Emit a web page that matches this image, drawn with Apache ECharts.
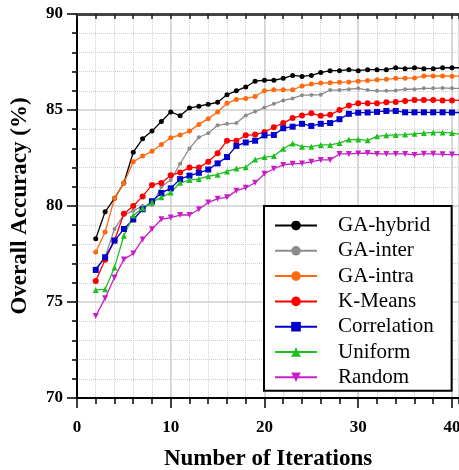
<!DOCTYPE html>
<html>
<head>
<meta charset="utf-8">
<script src="https://cdn.jsdelivr.net/npm/echarts@6/dist/echarts.min.js"></script>
<style>
  html, body { margin: 0; padding: 0; background: #fff; }
  #main { width: 459px; height: 470px; }
</style>
</head>
<body>
<div id="main"></div>
<script>
var chartDom = document.getElementById('main');
var myChart = echarts.init(chartDom);

// iterations 2..41 (the last one is cut off at the right edge)
const iterations = [2, 3, 4, 5, 6, 7, 8, 9, 10, 11, 12, 13, 14, 15, 16, 17, 18, 19, 20, 21,
  22, 23, 24, 25, 26, 27, 28, 29, 30, 31, 32, 33, 34, 35, 36, 37, 38, 39, 40, 41];

const gaHybrid = [78.3, 79.7, 80.4, 81.2, 82.8, 83.5, 83.9, 84.4, 84.9, 84.7, 85.1, 85.2, 85.3, 85.4, 85.8, 86.0,
  86.2, 86.5, 86.55, 86.55, 86.65, 86.8, 86.75, 86.8, 86.95, 87.05, 87.05, 87.1, 87.05, 87.1, 87.1, 87.1, 87.2,
  87.15, 87.2, 87.15, 87.15, 87.2, 87.2, 87.2];
const gaInter = [76.75, 77.35, 78.8, 79.55, 79.75, 80.0, 80.05, 81.0, 81.35, 82.2, 83.0, 83.58, 83.79, 84.2, 84.28,
  84.32, 84.72, 84.92, 85.13, 85.32, 85.5, 85.6, 85.77, 85.78, 85.8, 86.04, 86.04, 86.08, 86.13, 86.04, 86.0, 86.0,
  86.02, 86.08, 86.08, 86.13, 86.13, 86.15, 86.13, 86.13];
const gaIntra = [77.6, 78.65, 80.4, 81.2, 82.3, 82.6, 82.85, 83.2, 83.55, 83.7, 83.9, 84.25, 84.55, 84.9, 85.35,
  85.55, 85.6, 85.7, 86.0, 86.05, 86.05, 86.05, 86.25, 86.35, 86.4, 86.42, 86.44, 86.46, 86.5, 86.53, 86.57, 86.6,
  86.65, 86.65, 86.67, 86.77, 86.77, 86.77, 86.76, 86.76];
const kMeans = [76.1, 77.2, 78.2, 79.6, 80.0, 80.5, 81.1, 81.2, 81.6, 81.75, 82.0, 82.0, 82.3, 82.75, 83.4, 83.4,
  83.68, 83.72, 83.85, 84.1, 84.32, 84.58, 84.72, 84.83, 84.7, 84.75, 85.0, 85.23, 85.35, 85.35, 85.35, 85.4, 85.42,
  85.47, 85.52, 85.52, 85.52, 85.5, 85.5, 85.5];
const correlation = [76.67, 77.33, 78.2, 78.8, 79.3, 79.83, 80.25, 80.68, 80.92, 81.4, 81.58, 81.73, 81.9, 82.22,
  82.55, 83.13, 83.31, 83.4, 83.68, 83.7, 84.05, 84.13, 84.28, 84.17, 84.28, 84.32, 84.52, 84.8, 84.86, 84.87, 84.9,
  84.95, 84.95, 84.88, 84.88, 84.88, 84.88, 84.88, 84.87, 84.87];
const uniform = [75.63, 75.66, 76.8, 78.45, 79.5, 79.88, 80.2, 80.45, 80.7, 81.21, 81.35, 81.41, 81.55, 81.63, 81.8,
  81.95, 82.02, 82.42, 82.55, 82.6, 82.98, 83.26, 83.09, 83.09, 83.18, 83.18, 83.28, 83.46, 83.47, 83.42, 83.63,
  83.68, 83.7, 83.72, 83.76, 83.8, 83.83, 83.83, 83.8, 83.72];
const random = [74.27, 75.2, 76.28, 77.22, 77.53, 78.26, 78.79, 79.31, 79.4, 79.53, 79.53, 79.83, 80.18, 80.38,
  80.45, 80.8, 80.95, 81.21, 81.68, 81.94, 82.14, 82.2, 82.22, 82.3, 82.4, 82.4, 82.71, 82.71, 82.74, 82.76, 82.71,
  82.71, 82.71, 82.71, 82.66, 82.72, 82.72, 82.69, 82.68, 82.68];

const seriesNames = ['GA-hybrid', 'GA-inter', 'GA-intra', 'K-Means', 'Correlation', 'Uniform', 'Random'];
const xTicks = [0, 10, 20, 30, 40];

const serif = "'Liberation Serif', 'Times New Roman', serif";
const gridGrey = '#cfcfcf';

function pairs(values) {
  return values.map(function (v, i) { return [iterations[i], v]; });
}

function makeSeries(name, values, color, symbol, size, rotate) {
  return {
    name: name,
    type: 'line',
    data: pairs(values),
    symbol: symbol,
    symbolSize: size,
    symbolRotate: rotate || 0,
    showSymbol: true,
    color: color,
    lineStyle: { width: 1.3, color: color },
    itemStyle: { color: color },
    emphasis: { disabled: true },
    animation: false
  };
}

var option = {
  backgroundColor: '#fff',
  animation: false,
  grid: { left: 77, top: 14, right: 0, bottom: 72, containLabel: false, outerBoundsMode: 'none' },
  legend: {
    orient: 'vertical',
    left: 264,
    top: 206,
    padding: [9, 18, 3, 10],
    itemGap: 4.3,
    itemWidth: 42,
    itemHeight: 12,
    borderColor: '#000',
    borderWidth: 2,
    borderRadius: 0,
    backgroundColor: '#fff',
    textStyle: { fontFamily: serif, fontSize: 21, color: '#000', lineHeight: 20, padding: [0, 0, 0, 16] },
    data: seriesNames
  },
  xAxis: [
    {
      // minor grid (every 2)
      type: 'value', min: 0, max: 40.75, interval: 2, position: 'bottom',
      axisLine: { show: true, onZero: false, lineStyle: { color: '#000', width: 2 } },
      axisTick: { show: true, length: 6, lineStyle: { color: '#000', width: 1.5 } },
      axisLabel: { show: false },
      splitLine: { show: true, lineStyle: { color: gridGrey, type: 'dotted', width: 1 } }
    },
    {
      // major ticks with labels
      type: 'value', min: 0, max: 40.75, interval: 10, position: 'bottom',
      name: 'Number of Iterations', nameLocation: 'middle', nameGap: 50,
      nameTextStyle: { fontFamily: serif, fontSize: 23, fontWeight: 'bold', color: '#000' },
      axisLine: { show: true, onZero: false, lineStyle: { color: '#000', width: 2 } },
      axisTick: { show: true, length: 10, lineStyle: { color: '#000', width: 1.5 } },
      axisLabel: {
        fontFamily: serif, fontSize: 17, fontWeight: 'bold', color: '#000', margin: 21,
        showMaxLabel: false,
        formatter: function (v) { return xTicks.indexOf(v) >= 0 ? String(v) : ''; }
      },
      splitLine: { show: true, lineStyle: { color: gridGrey, width: 1.5 } }
    },
    {
      // top frame
      type: 'value', min: 0, max: 40.75, interval: 2, position: 'top',
      axisLine: { show: true, onZero: false, lineStyle: { color: '#444', width: 3 } },
      axisTick: { show: true, inside: true, length: 5, lineStyle: { color: '#222', width: 1.5 } },
      axisLabel: { show: false },
      splitLine: { show: false }
    }
  ],
  yAxis: [
    {
      type: 'value', min: 70, max: 90, interval: 5, position: 'left',
      name: 'Overall Accuracy (%)', nameLocation: 'middle', nameGap: 45,
      nameTextStyle: { fontFamily: serif, fontSize: 23, fontWeight: 'bold', color: '#000' },
      axisLine: { show: true, onZero: false, lineStyle: { color: '#000', width: 2 } },
      axisTick: { show: true, length: 10, lineStyle: { color: '#000', width: 1.5 } },
      minorTick: { show: true, splitNumber: 5, length: 5, lineStyle: { color: '#000', width: 1.5 } },
      axisLabel: { fontFamily: serif, fontSize: 17, fontWeight: 'bold', color: '#000', margin: 14 },
      splitLine: { show: true, lineStyle: { color: gridGrey, width: 1.5 } },
      minorSplitLine: { show: true, lineStyle: { color: gridGrey, type: 'dotted', width: 1 } }
    },
    {
      type: 'value', min: 70, max: 90, interval: 1, position: 'right',
      axisLine: { show: false },
      axisTick: { show: true, inside: true, length: 4, lineStyle: { color: '#333', width: 1 } },
      axisLabel: { show: false },
      splitLine: { show: false }
    }
  ],
  series: [
    makeSeries('GA-hybrid', gaHybrid, '#000000', 'circle', 5),
    makeSeries('GA-inter', gaInter, '#8c8c8c', 'circle', 4),
    makeSeries('GA-intra', gaIntra, '#ff6a10', 'circle', 5),
    makeSeries('K-Means', kMeans, '#ff0000', 'circle', 6),
    makeSeries('Correlation', correlation, '#0000cc', 'rect', 6),
    makeSeries('Uniform', uniform, '#1fbf1f', 'triangle', 6),
    makeSeries('Random', random, '#c81ec8', 'triangle', 6, 180)
  ]
};

option && myChart.setOption(option);
</script>
</body>
</html>
